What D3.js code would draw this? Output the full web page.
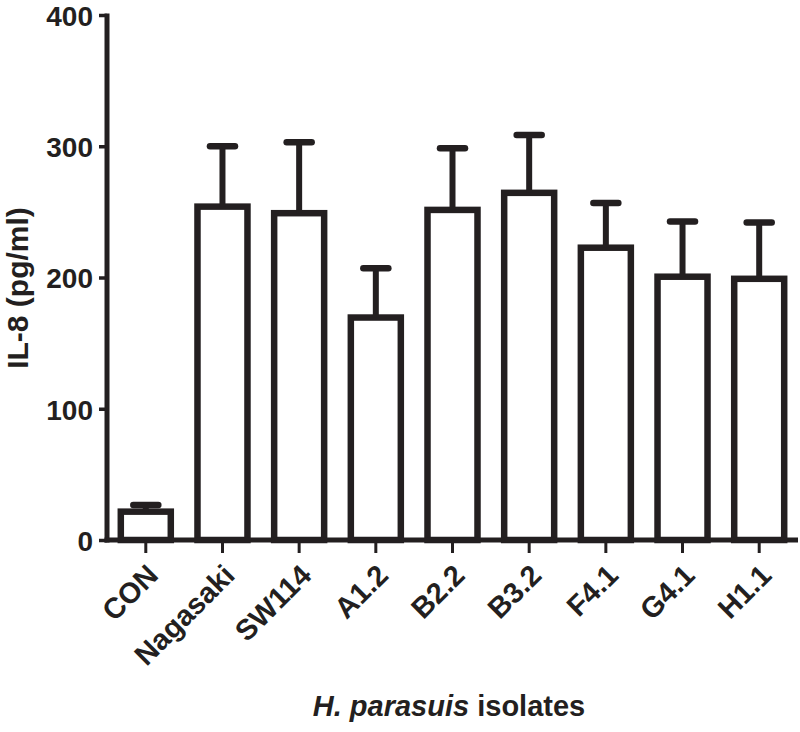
<!DOCTYPE html>
<html lang="en">
<head>
    <meta charset="UTF-8">
    <title>IL-8 by H. parasuis isolate</title>
    <style>
        body { margin: 0; background: #fff; }
        text { font-family: "Liberation Sans", Arial, sans-serif; font-weight: bold; fill: #231f20; }
    </style>
</head>
<body>
    <div id="chart"></div>

    <script src="https://d3js.org/d3.v7.min.js"></script>
    <script>
        const w = 800;
        const h = 732;
        const ink = '#231f20';

        // bar categories, means and error (upper SD)
        const isolates = ['CON', 'Nagasaki', 'SW114', 'A1.2', 'B2.2', 'B3.2', 'F4.1', 'G4.1', 'H1.1'];
        const il8Mean = [21.6, 254, 249, 169.5, 251.5, 264.5, 222.7, 200.6, 199];
        const il8Sd = [5, 46, 54, 37.5, 47, 44, 34, 42, 43];
        const yTicks = [0, 100, 200, 300, 400];

        const data = isolates.map((name, i) => ({ name, mean: il8Mean[i], sd: il8Sd[i] }));

        const axisX = 107, baseY = 540, topY = 15, rightX = 798;

        const xScale = d3.scaleBand()
            .domain(isolates)
            .range([axisX, rightX])
            .paddingInner(0.348)
            .paddingOuter(0.18);
        const yScale = d3.scaleLinear()
            .domain([0, 400])
            .range([baseY, topY]);

        const svg = d3.select('#chart')
            .append('svg')
            .attr('width', w)
            .attr('height', h);

        // bars
        svg.selectAll('rect.bar')
            .data(data)
            .enter()
            .append('rect')
            .attr('class', 'bar')
            .attr('x', d => xScale(d.name))
            .attr('y', d => yScale(d.mean))
            .attr('width', xScale.bandwidth())
            .attr('height', d => baseY - yScale(d.mean))
            .attr('fill', '#fff')
            .attr('stroke', ink)
            .attr('stroke-width', 6.5);

        // error bars (upper only)
        const cx = d => xScale(d.name) + xScale.bandwidth() / 2;
        svg.selectAll('line.err')
            .data(data)
            .enter()
            .append('line')
            .attr('class', 'err')
            .attr('x1', cx).attr('x2', cx)
            .attr('y1', d => yScale(d.mean))
            .attr('y2', d => yScale(d.mean + d.sd))
            .attr('stroke', ink)
            .attr('stroke-width', 6);
        svg.selectAll('line.cap')
            .data(data)
            .enter()
            .append('line')
            .attr('class', 'cap')
            .attr('x1', d => cx(d) - 12.5).attr('x2', d => cx(d) + 12.5)
            .attr('y1', d => yScale(d.mean + d.sd))
            .attr('y2', d => yScale(d.mean + d.sd))
            .attr('stroke', ink)
            .attr('stroke-width', 6.5)
            .attr('stroke-linecap', 'round');

        // y axis
        const yAxis = d3.axisLeft(yScale)
            .tickValues(yTicks)
            .tickSize(8)
            .tickSizeOuter(0)
            .tickPadding(6);
        const gy = svg.append('g')
            .attr('transform', `translate(${axisX}, 0)`)
            .call(yAxis);
        gy.select('.domain').remove();
        gy.selectAll('.tick line').attr('stroke', ink).attr('stroke-width', 3.5);
        gy.selectAll('.tick text')
            .style('font-size', '28px')
            .attr('dy', '0.37em');
        svg.append('line')
            .attr('x1', axisX).attr('x2', axisX)
            .attr('y1', topY - 1.5).attr('y2', baseY + 2.5)
            .attr('stroke', ink).attr('stroke-width', 5);

        // x axis
        const xAxis = d3.axisBottom(xScale)
            .tickSize(13)
            .tickSizeOuter(0);
        const gx = svg.append('g')
            .attr('transform', `translate(0, ${baseY})`)
            .call(xAxis);
        gx.select('.domain').remove();
        gx.selectAll('.tick line').attr('stroke', ink).attr('stroke-width', 3);
        gx.selectAll('.tick text')
            .style('font-size', '29px')
            .attr('text-anchor', 'end')
            .attr('y', 0)
            .attr('dy', 0)
            .attr('transform', 'translate(14, 37) rotate(-45)');
        svg.append('line')
            .attr('x1', axisX - 2.5).attr('x2', rightX)
            .attr('y1', baseY).attr('y2', baseY)
            .attr('stroke', ink).attr('stroke-width', 5);

        // axis titles
        svg.append('text')
            .attr('transform', 'translate(28, 288) rotate(-90)')
            .attr('text-anchor', 'middle')
            .style('font-size', '30px')
            .text('IL-8 (pg/ml)');

        const xt = svg.append('text')
            .attr('transform', 'translate(449, 716)')
            .attr('text-anchor', 'middle')
            .style('font-size', '29px');
        xt.append('tspan').style('font-style', 'italic').text('H. parasuis');
        xt.append('tspan').text(' isolates');
    </script>
</body>
</html>
